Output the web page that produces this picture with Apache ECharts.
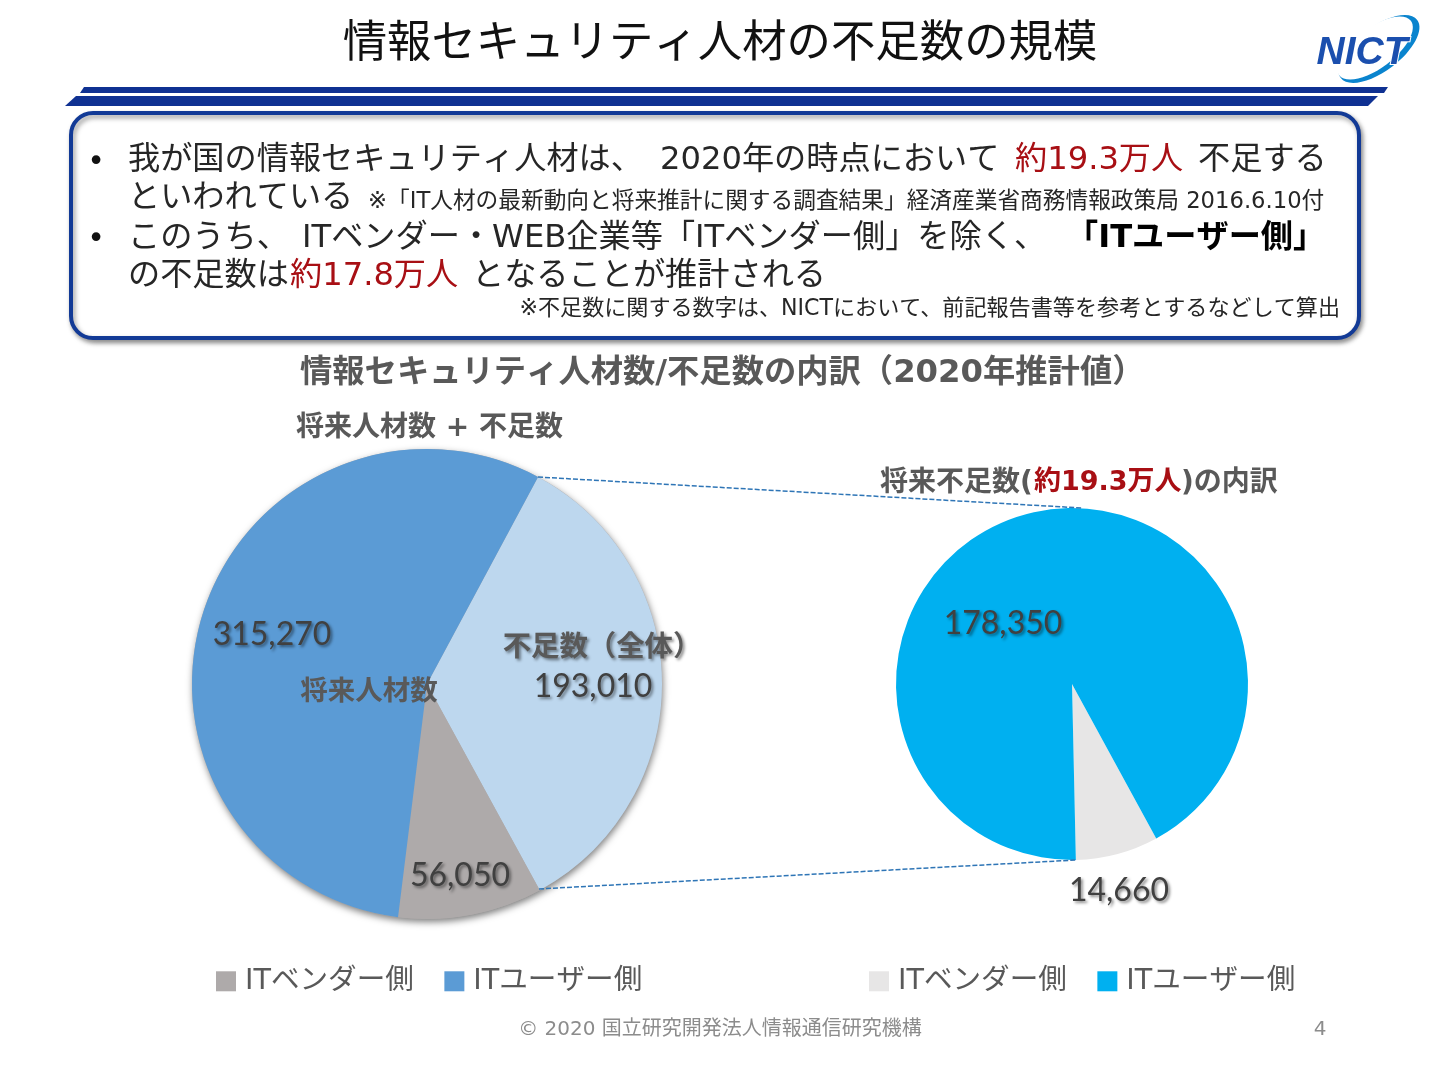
<!DOCTYPE html>
<html>
<head>
<meta charset="utf-8">
<script src="https://cdn.jsdelivr.net/npm/echarts@6/dist/echarts.min.js"></script>
<style>
html,body{margin:0;padding:0;background:#fff;}
#chart{width:1439px;height:1079px;}
</style>
</head>
<body>
<div id="chart"></div>
<script>
// left pie
var leftNames = ['不足数\uFF08全体\uFF09', 'ITベンダー側', 'ITユーザー側'];
var leftValues = [193010, 56050, 315270];
var leftColors = ['#BDD7EE', '#AEAAAA', '#5B9BD5'];
// right pie
var rightNames = ['ITベンダー側', 'ITユーザー側'];
var rightValues = [14660, 178350];
var rightColors = ['#E7E6E6', '#00B0F0'];

var JP = '"DejaVu Sans","Noto Sans CJK JP"';
var GREY = '#595959';
var RED = '#A80F14';

function txt(x, y, s, size, color, weight, align, extra) {
    var style = {
        x: x, y: y + size * 0.12, text: s,
        font: (weight || 'normal') + ' ' + size + 'px ' + JP,
        fill: color || '#262626',
        textAlign: align || 'left',
        textVerticalAlign: 'middle'
    };
    for (var k in (extra || {})) style[k] = extra[k];
    return {type: 'text', silent: true, z: 20, style: style};
}
function num(v) {
    return v.toLocaleString('en-US');
}
function sum(a) {
    var s = 0;
    for (var i = 0; i < a.length; i++) s += a[i];
    return s;
}
var shadowG = {shadowColor: 'rgba(0,0,0,0.45)', shadowBlur: 3, shadowOffsetX: 2, shadowOffsetY: 2};
var shadowT = {textShadowColor: 'rgba(0,0,0,0.45)', textShadowBlur: 3, textShadowOffsetX: 2, textShadowOffsetY: 2};

var graphics = [
    // header
    txt(720, 40, '情報セキュリティ人材の不足数の規模', 44.4, '#111', 'normal', 'center'),
    {type: 'polygon', silent: true, shape: {points: [[84, 87], [1388, 87], [1384, 93], [80, 93]]}, style: {fill: '#0F3192'}},
    {type: 'polygon', silent: true, shape: {points: [[76, 96], [1378, 96], [1368, 106], [65, 106]]}, style: {fill: '#0F3192'}},
    // logo
    {type: 'ellipse', silent: true, z: 5, x: 1379, y: 49, rotation: 0.65, shape: {cx: 0, cy: 0, rx: 48, ry: 22}, style: {fill: '#0A84CE'}},
    {type: 'ellipse', silent: true, z: 6, x: 1375, y: 48, rotation: 0.65, shape: {cx: 0, cy: 0, rx: 45, ry: 20}, style: {fill: '#fff'}},
    {type: 'text', silent: true, z: 7, style: {x: 1362, y: 53, text: 'NICT', font: 'italic bold 39px "Liberation Sans"', fill: '#1B4FAE', stroke: '#fff', lineWidth: 2, textAlign: 'center', textVerticalAlign: 'middle'}},
    // text box
    {type: 'rect', silent: true, shape: {x: 71, y: 113, width: 1288, height: 225, r: 22}, style: {fill: '#fff', stroke: '#123A96', lineWidth: 4, shadowColor: 'rgba(0,0,0,0.4)', shadowBlur: 5, shadowOffsetX: 2, shadowOffsetY: 3}},
    txt(96, 160, '•', 30, '#111', 'normal', 'center'),
    txt(128, 157, '我が国の情報セキュリティ人材は、', 32.2),
    txt(660, 157, '2020年の時点において', 32.2),
    txt(1015, 157, '約19.3万人', 32.2, RED),
    txt(1198, 157, '不足する', 32.2),
    txt(128, 195, 'といわれている', 32.2),
    txt(368, 199, '※「IT人材の最新動向と将来推計に関する調査結果」経済産業省商務情報政策局 2016.6.10付', 22.7),
    txt(96, 237, '•', 30, '#111', 'normal', 'center'),
    txt(128, 235, 'このうち、', 32.2),
    txt(302, 235, 'ITベンダー・WEB企業等「ITベンダー側」を除く、', 32.2),
    txt(1066, 235, '「ITユーザー側」', 32.2, '#000', 'bold'),
    txt(128, 273, 'の不足数は', 32.2),
    txt(290, 273, '約17.8万人', 32.2, RED),
    txt(472, 273, 'となることが推計される', 32.2),
    txt(1340, 307, '※不足数に関する数字は、NICTにおいて、前記報告書等を参考とするなどして算出', 22.1, '#262626', 'normal', 'right'),
    // section headings
    txt(300, 370, '情報セキュリティ人材数/不足数の内訳\uFF082020年推計値\uFF09', 32.3, GREY, 'bold'),
    txt(296, 425, '将来人材数 + 不足数', 28, GREY, 'bold'),
    txt(880, 480, '将来不足数(', 28, GREY, 'bold'),
    txt(1034, 480, '約19.3万人', 27, RED, 'bold'),
    txt(1181, 480, ')の内訳', 28, GREY, 'bold'),
    // connector lines between the pies
    {type: 'line', silent: true, z: 15, shape: {x1: 538, y1: 477, x2: 1082, y2: 508}, style: {stroke: '#2E75B6', lineWidth: 1.5, lineDash: [5, 2]}},
    {type: 'line', silent: true, z: 15, shape: {x1: 539, y1: 889, x2: 1076, y2: 860}, style: {stroke: '#2E75B6', lineWidth: 1.5, lineDash: [5, 2]}},
    txt(369, 690, '将来人材数', 27.5, GREY, 'bold', 'center', shadowG),
    // footer
    txt(720, 1027, '© 2020 国立研究開発法人情報通信研究機構', 20, '#8C8C8C', 'normal', 'center'),
    txt(1320, 1027, '4', 20, '#8C8C8C', 'normal', 'center')
];

var leftLabelPos = [[602, 668], [460, 876], [272, 635]];
var rightLabelPos = [[1119, 891], [1003, 624]];

function pieData(names, values, colors) {
    return names.map(function (n, i) {
        return {name: n, value: values[i], itemStyle: {color: colors[i]}};
    });
}
function valueLabel() {
    return Object.assign({
        show: true, position: 'inside', color: '#404040',
        fontFamily: 'Lato', fontSize: 32,
        formatter: function (p) { return num(p.value); }
    }, shadowT);
}
function legendOf(x, colors) {
    return {
        left: x, top: 962,
        icon: 'rect', itemWidth: 20, itemHeight: 20, itemGap: 30.5,
        selectedMode: false,
        textStyle: {fontFamily: JP, fontSize: 28.6, color: GREY, padding: [0, 0, 7, 4]},
        data: [
            {name: 'ITベンダー側', itemStyle: {color: colors[0]}},
            {name: 'ITユーザー側', itemStyle: {color: colors[1]}}
        ]
    };
}

var leftData = pieData(leftNames, leftValues, leftColors);
// the shortage slice carries its name above the value
leftData[0].label = {
    formatter: function (p) { return '{n|' + p.name + '}\n{v|' + num(p.value) + '}'; },
    rich: {
        n: Object.assign({fontFamily: JP, fontSize: 28.4, fontWeight: 'bold', color: GREY, lineHeight: 38}, shadowT),
        v: Object.assign({fontFamily: 'Lato', fontSize: 32, color: '#404040', lineHeight: 38, padding: [0, 18, 0, 0]}, shadowT)
    }
};

var chart = echarts.init(document.getElementById('chart'), null, {renderer: 'canvas', width: 1439, height: 1079});
chart.setOption({
    animation: false,
    backgroundColor: '#fff',
    legend: [legendOf(211, leftColors.slice(1)), legendOf(864, rightColors)],
    series: [{
        // only there to cast the drop shadow under the whole left pie
        type: 'pie', name: 'shadow', silent: true, z: 1,
        center: [427, 684], radius: [0, 235],
        label: {show: false}, labelLine: {show: false},
        itemStyle: {color: '#AEAAAA', shadowColor: 'rgba(0,0,0,0.5)', shadowBlur: 7, shadowOffsetX: 1, shadowOffsetY: 3},
        data: [{name: 'total', value: sum(leftValues)}]
    }, {
        type: 'pie', name: 'left', silent: true, z: 2,
        center: [427, 684], radius: [0, 235],
        startAngle: 61.8, clockwise: true,
        label: valueLabel(),
        labelLine: {show: false},
        labelLayout: function (p) {
            return {x: leftLabelPos[p.dataIndex][0], y: leftLabelPos[p.dataIndex][1], align: 'center', verticalAlign: 'middle'};
        },
        data: leftData
    }, {
        type: 'pie', name: 'right', silent: true, z: 2,
        center: [1072, 684], radius: [0, 176],
        startAngle: -61.4, clockwise: true,
        label: valueLabel(),
        labelLine: {show: false},
        labelLayout: function (p) {
            return {x: rightLabelPos[p.dataIndex][0], y: rightLabelPos[p.dataIndex][1], align: 'center', verticalAlign: 'middle'};
        },
        data: pieData(rightNames, rightValues, rightColors)
    }],
    graphic: {elements: graphics}
});
</script>
</body>
</html>
